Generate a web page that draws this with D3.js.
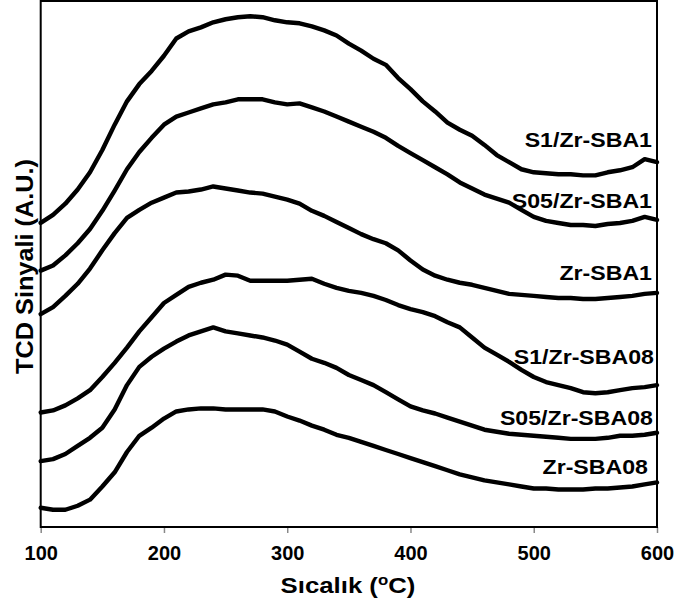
<!DOCTYPE html>
<html>
<head>
<meta charset="utf-8">
<script src="https://cdn.jsdelivr.net/npm/d3@7"></script>
<style>
  body { margin: 0; background: #fff; }
  text { font-family: Arial, "Liberation Sans", sans-serif; font-weight: bold; fill: #000; }
</style>
</head>
<body>
<svg width="675" height="605"></svg>
<script>
// temperature grid (°C), one reading every 10 degrees
const temps = d3.range(100, 601, 10);

// TCD signal (A.U.), 100..600 °C
const s1ZrSBA1 = [300, 308, 319, 333, 350, 372, 397, 420, 437, 450, 465, 482, 489, 493, 498, 501, 503, 504, 503, 500,
  498, 497, 494, 490, 485, 477, 470, 462, 456, 443, 432, 420, 410, 399, 392, 386, 377, 367, 360, 353,
  350, 349, 348, 348, 347, 347, 350, 352, 355, 363, 360];
const s05ZrSBA1 = [253, 258, 268, 280, 294, 312, 332, 353, 370, 384, 397, 405, 409, 413, 417, 419, 422, 422, 422, 419,
  417, 418, 414, 410, 405, 400, 395, 390, 384, 376, 369, 362, 355, 348, 340, 334, 328, 324, 320, 313,
  306, 302, 300, 298, 298, 297, 299, 300, 302, 306, 303];
const zrSBA1 = [210, 217, 228, 240, 255, 273, 290, 305, 313, 320, 325, 330, 331, 333, 336, 334, 332, 330, 329, 326,
  323, 319, 312, 307, 301, 295, 289, 284, 280, 273, 263, 254, 248, 244, 241, 239, 236, 233, 230, 229,
  228, 227, 226, 226, 225, 225, 226, 227, 228, 230, 231];
const s1ZrSBA08 = [113, 115, 120, 127, 135, 148, 162, 177, 193, 207, 221, 229, 237, 241, 244, 249, 248, 243, 243, 243,
  243, 244, 245, 240, 236, 233, 231, 228, 224, 219, 215, 212, 208, 202, 197, 187, 177, 170, 163, 155,
  148, 143, 140, 137, 133, 132, 133, 135, 137, 138, 140];
const s05ZrSBA08 = [65, 67, 72, 80, 88, 98, 116, 140, 158, 168, 176, 183, 189, 193, 197, 193, 191, 189, 187, 184,
  180, 173, 166, 162, 157, 150, 145, 140, 133, 126, 119, 115, 112, 108, 104, 100, 96, 94, 92, 91,
  90, 89, 88, 87, 87, 87, 88, 90, 90, 91, 93];
const zrSBA08 = [19, 17, 17, 21, 27, 40, 54, 74, 90, 98, 107, 114, 116, 117, 117, 116, 116, 116, 116, 114,
  109, 105, 100, 96, 91, 88, 84, 80, 76, 72, 68, 64, 60, 56, 52, 49, 46, 44, 42, 40,
  38, 38, 37, 37, 37, 38, 38, 39, 40, 42, 44];

const seriesNames = ["S1/Zr-SBA1", "S05/Zr-SBA1", "Zr-SBA1", "S1/Zr-SBA08", "S05/Zr-SBA08", "Zr-SBA08"];
const seriesValues = [s1ZrSBA1, s05ZrSBA1, zrSBA1, s1ZrSBA08, s05ZrSBA08, zrSBA08];
const xTicks = [100, 200, 300, 400, 500, 600];

// label layout: right edge and baseline of each series name
const labelRight = [652, 652, 652, 654, 653, 648];
const labelBase = [147, 208, 280, 364, 425, 474];

const svg = d3.select("svg");
const plotL = 40.7, plotR = 657, plotT = 1, plotB = 527;

const x = d3.scaleLinear().domain([100, 600]).range([plotL, plotR]);
const y = d3.scaleLinear().domain([0, 520]).range([plotB, 0]);

// stretched bold text, like the source picture
function label(g, str, tx, ty, size, sx, anchor, rot) {
  return g.append("text")
    .attr("transform", `translate(${tx},${ty})` + (rot ? ` rotate(${rot})` : "") + ` scale(${sx},1)`)
    .attr("text-anchor", anchor)
    .attr("font-size", size)
    .text(str);
}

/* --------- AXIS --------- */
const xAxis = svg.append("g")
  .attr("transform", `translate(0,${plotB})`)
  .call(d3.axisBottom(x).tickValues(xTicks).tickSize(6).tickSizeOuter(0));
xAxis.select(".domain").remove();
xAxis.selectAll(".tick line").attr("stroke", "#888").attr("stroke-width", 1.5);
xAxis.selectAll(".tick text")
  .attr("y", 33).attr("dy", null)
  .attr("font-size", 20)
  .attr("font-family", null);

/* --------- LINES --------- */
const line = d3.line()
  .x((d, i) => x(temps[i]))
  .y(d => y(d));

svg.append("g")
  .selectAll("path")
  .data(seriesValues)
  .join("path")
  .attr("fill", "none")
  .attr("stroke", "#000")
  .attr("stroke-width", 4.4)
  .attr("stroke-linejoin", "round")
  .attr("stroke-linecap", "round")
  .attr("d", line);

/* --------- FRAME --------- */
svg.append("rect")
  .attr("x", plotL).attr("y", plotT)
  .attr("width", plotR - plotL).attr("height", plotB - plotT)
  .attr("fill", "none")
  .attr("stroke", "#000")
  .attr("stroke-width", 2);

/* --------- SERIES LABELS --------- */
const lg = svg.append("g");
seriesNames.forEach((n, i) => label(lg, n, labelRight[i], labelBase[i], 20.5, 1.13, "end"));

/* --------- TITLES --------- */
label(svg, "TCD Sinyali (A.U.)", 33, 266.5, 23, 1.1, "middle", -90);

const xt = svg.append("text")
  .attr("transform", "translate(348,593) scale(1.12,1)")
  .attr("text-anchor", "middle")
  .attr("font-size", 23);
xt.append("tspan").text("Sıcalık (");
xt.append("tspan").attr("font-size", 15).attr("dy", -8).text("o");
xt.append("tspan").attr("dy", 8).text("C)");
</script>
</body>
</html>
